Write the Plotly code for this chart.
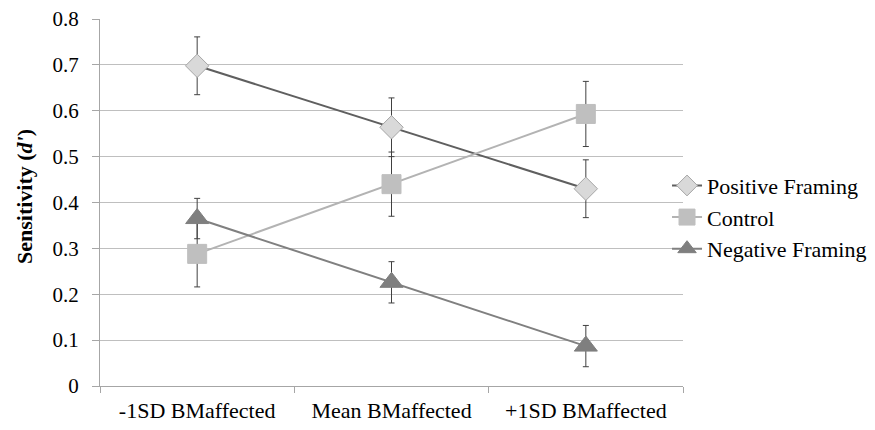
import plotly.graph_objects as go

categories = ["-1SD BMaffected", "Mean BMaffected", "+1SD BMaffected"]
positive = [0.698, 0.564, 0.430]
positive_err = [0.063, 0.064, 0.063]
control = [0.288, 0.440, 0.593]
control_err = [0.072, 0.070, 0.071]
negative = [0.365, 0.226, 0.087]
negative_err = [0.044, 0.045, 0.045]
y_ticks = [0, 0.1, 0.2, 0.3, 0.4, 0.5, 0.6, 0.7, 0.8]

FONT = "Liberation Serif"

fig = go.Figure()

def add(name, y, err, line_color, marker_color, marker_line, symbol, size):
    fig.add_trace(go.Scatter(
        x=categories, y=y, name=name, mode="lines+markers",
        line=dict(color=line_color, width=2),
        marker=dict(symbol=symbol, size=size, color=marker_color,
                    line=dict(color=marker_line, width=1)),
        error_y=dict(type="data", array=err, visible=True,
                     color="#404040", thickness=1, width=3),
    ))

add("Positive Framing", positive, positive_err, "#5f5f5f", "#d9d9d9", "#a6a6a6", "diamond", 18)
add("Control", control, control_err, "#b3b3b3", "#bfbfbf", "#bfbfbf", "square", 19)
add("Negative Framing", negative, negative_err, "#808080", "#7f7f7f", "#7f7f7f", "triangle-up", 20)

fig.update_layout(
    width=875, height=430,
    margin=dict(l=92, r=200, t=11, b=52, autoexpand=False),
    paper_bgcolor="white", plot_bgcolor="white",
    font=dict(family=FONT, size=21, color="black"),
    showlegend=True,
    legend=dict(x=0.9726, y=0.46, xanchor="left", yanchor="middle",
                bgcolor="rgba(0,0,0,0)", font=dict(size=22, family=FONT),
                itemwidth=30),
    annotations=[dict(
        text="<b>Sensitivity (<i>d'</i>)</b>", textangle=-90,
        xref="paper", yref="paper", x=-0.1286, y=0.515,
        xanchor="center", yanchor="middle", showarrow=False,
        font=dict(size=22, family=FONT, color="black"),
    )],
)
fig.update_xaxes(
    type="category", range=[-0.5, 2.5], tickson="boundaries", ticks="outside", ticklen=6,
    tickcolor="#a6a6a6", showline=True, linecolor="#a6a6a6", linewidth=1,
    showgrid=False, tickfont=dict(size=22, family=FONT), ticklabelstandoff=5,
    automargin=False,
)
fig.update_yaxes(
    range=[0, 0.8], tickvals=y_ticks, ticktext=[f"{v:g}" for v in y_ticks],
    ticks="outside", ticklen=7, tickcolor="#a6a6a6",
    showline=True, linecolor="#a6a6a6", linewidth=1,
    showgrid=True, gridcolor="#bfbfbf", gridwidth=1, zeroline=False,
    tickfont=dict(size=21, family=FONT), ticklabelstandoff=9,
    ticklabeloverflow="allow", automargin=False,
)

fig.write_html("out.html")
